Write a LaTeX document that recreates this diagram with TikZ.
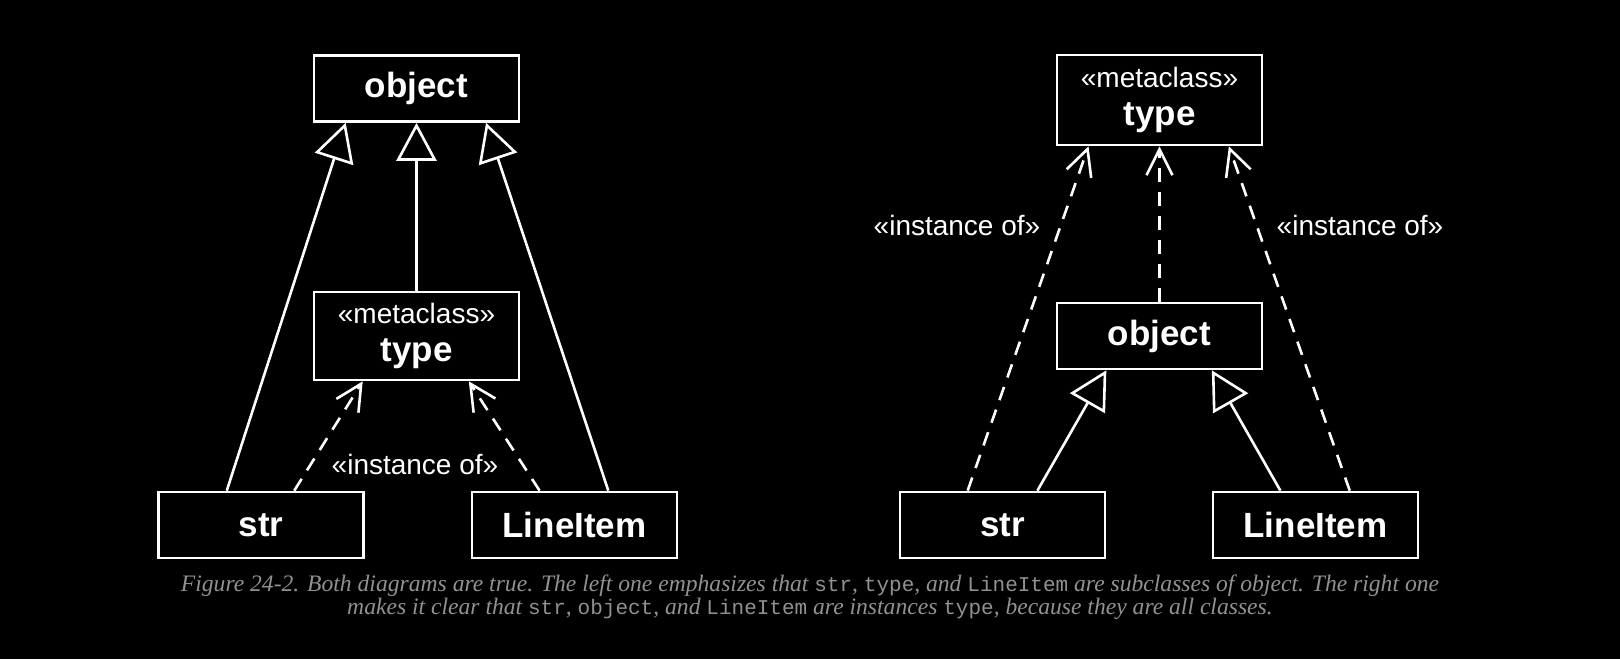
\documentclass[tikz,border=0pt]{standalone}
\usepackage{fontspec}
\setmainfont{Liberation Serif}
\newfontfamily\uml{Liberation Sans}
\newfontfamily\capmono{Liberation Mono}
\usetikzlibrary{arrows.meta,calc}
\definecolor{capgray}{RGB}{145,145,145}
\newcommand{\cm}[1]{{\capmono\upshape\fontsize{21}{23}\selectfont #1}}
\begin{document}
\begin{tikzpicture}[x=1pt,y=-1pt,
  cls/.style={draw=white, line width=2.6pt, fill=black, text=white,
    minimum width=205pt, minimum height=66pt, inner sep=0pt,
    font=\uml\bfseries\fontsize{35}{38}\selectfont, align=center},
  gen/.style={draw=white, line width=2.6pt, -{Triangle[open,length=38pt,width=40pt]}},
  inst/.style={draw=white, line width=2.6pt, dash pattern=on 14pt off 10pt,
    -{Straight Barb[length=26pt,width=26pt]}},
  lbl/.style={text=white, font=\uml\fontsize{28}{32}\selectfont, inner sep=0pt}]
\fill[black] (0,0) rectangle (1620,659);
\useasboundingbox (0,0) rectangle (1620,659);
% left diagram
\node[cls] (lobj) at (416.5,88.5) {object};
\node[cls, minimum height=88pt] (ltype) at (416.5,336) {{\mdseries\fontsize{28}{38}\selectfont «metaclass»}\\type};
\node[cls] (lstr) at (261,525) {str};
\node[cls] (lli) at (574.5,525) {LineItem};
\draw[gen] ($(lstr.north west)!0.335!(lstr.north east)$) -- ($(lobj.south west)!0.159!(lobj.south east)$);
\draw[gen] (ltype.north) -- (lobj.south);
\draw[gen] ($(lli.north west)!0.663!(lli.north east)$) -- ($(lobj.south west)!0.835!(lobj.south east)$);
\draw[inst] ($(lstr.north west)!0.66!(lstr.north east)$) -- ($(ltype.south west)!0.241!(ltype.south east)$);
\draw[inst] ($(lli.north west)!0.332!(lli.north east)$) -- ($(ltype.south west)!0.752!(ltype.south east)$);
\node[lbl] (llbl) at (415,464) {«instance of»};
% right diagram
\node[cls, minimum height=90pt] (rtype) at (1159.5,100) {{\mdseries\fontsize{28}{38}\selectfont «metaclass»}\\type};
\node[cls] (robj) at (1159.5,336) {object};
\node[cls] (rstr) at (1002.5,525) {str};
\node[cls] (rli) at (1315.5,525) {LineItem};
\draw[inst] ($(rstr.north west)!0.332!(rstr.north east)$) -- ($(rtype.south west)!0.158!(rtype.south east)$);
\draw[inst] (robj.north) -- (rtype.south);
\draw[inst] ($(rli.north west)!0.665!(rli.north east)$) -- ($(rtype.south west)!0.834!(rtype.south east)$);
\draw[gen] ($(rstr.north west)!0.668!(rstr.north east)$) -- ($(robj.south west)!0.244!(robj.south east)$);
\draw[gen] ($(rli.north west)!0.331!(rli.north east)$) -- ($(robj.south west)!0.752!(robj.south east)$);
\node[lbl] (rlbl1) at (957,225) {«instance of»};
\node[lbl] (rlbl2) at (1360,225) {«instance of»};
% caption
\node[text=capgray, align=center, inner sep=0pt, font=\itshape\fontsize{23.6}{23.5}\selectfont] (cap) at (810,597)
  {Figure 24-2. Both diagrams are true. The left one emphasizes that \cm{str}, \cm{type}, and \cm{LineItem} are subclasses of object. The right one\\
   makes it clear that \cm{str}, \cm{object}, and \cm{LineItem} are instances \cm{type}, because they are all classes.};
\end{tikzpicture}
\end{document}
